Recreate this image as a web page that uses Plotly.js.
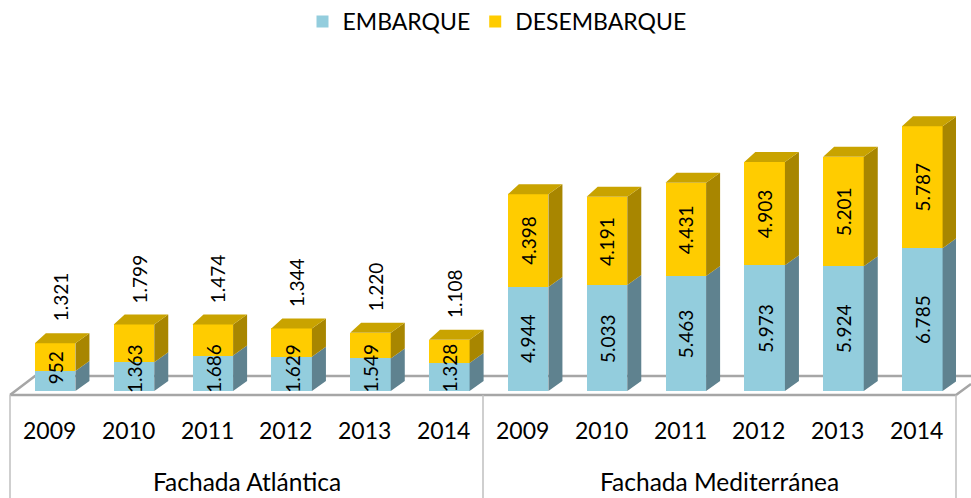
<!DOCTYPE html>
<html>
<head>
<meta charset="utf-8">
<script src="https://cdn.plot.ly/plotly-3.0.1.min.js"></script>
<style>
  html, body { margin: 0; padding: 0; background: #ffffff; }
  #chart { width: 971px; height: 498px; }
</style>
</head>
<body>
<div id="chart"></div>
<script>
// ---- data ----
const groups = ['Fachada Atlántica', 'Fachada Mediterránea'];
const years = ['2009', '2010', '2011', '2012', '2013', '2014'];
const embarque = [952, 1363, 1686, 1629, 1549, 1328, 4944, 5033, 5463, 5973, 5924, 6785];
const desembarque = [1321, 1799, 1474, 1344, 1220, 1108, 4398, 4191, 4431, 4903, 5201, 5787];
const seriesNames = ['EMBARQUE', 'DESEMBARQUE'];

// ---- styling / geometry ----
const FONT = 'Lato, "Open Sans", "DejaVu Sans", sans-serif';
const W = 971, H = 498;
const M = { l: 10, r: 15, t: 60, b: 103 };
const plotW = W - M.l - M.r, plotH = H - M.t - M.b;
const nCat = groups.length * years.length;
const catPx = plotW / nCat;
const YMIN = -190, YMAX = 15722;
const unitsPerPx = (YMAX - YMIN) / plotH;

const BAR_W = 0.515, BAR_OFF = -0.185;
const DXR = 14 / catPx, DXL = 11 / catPx, DY = 10 * unitsPerPx;

const C_BLUE = '#93CDDD', C_BLUE_SIDE = '#5F828F';
const C_GOLD = '#FFCC00', C_GOLD_SIDE = '#A88600', C_GOLD_TOP = '#C9A300';
const C_LINE = '#A6A6A6';

const fmt = n => String(n).replace(/\B(?=(\d{3})+(?!\d))/g, '.');
const xIdx = embarque.map((_, i) => i);
const totals = embarque.map((v, i) => v + desembarque[i]);

// helpers converting pixel layout positions to paper coords
const px2x = px => (px - M.l) / plotW;
const px2y = py => (H - M.b - py) / plotH;

// ---- front faces (bars) ----
const traces = [
  { type: 'bar', name: seriesNames[0], x: xIdx, y: embarque, width: BAR_W, offset: BAR_OFF,
    marker: { color: C_BLUE, line: { width: 0 } }, hoverinfo: 'y' },
  { type: 'bar', name: seriesNames[1], x: xIdx, y: desembarque, width: BAR_W, offset: BAR_OFF,
    marker: { color: C_GOLD, line: { width: 0 } }, hoverinfo: 'y' }
];

// ---- 3D side and top faces ----
function facePoly(color, build) {
  const xs = [], ys = [];
  xIdx.forEach(i => {
    const pts = build(i);
    pts.forEach(p => { xs.push(p[0]); ys.push(p[1]); });
    xs.push(null); ys.push(null);
  });
  return { type: 'scatter', mode: 'lines', x: xs, y: ys, fill: 'toself', fillcolor: color,
           line: { width: 0, color: color }, hoverinfo: 'skip', showlegend: false, connectgaps: false };
}
const xl = i => i + BAR_OFF, xr = i => i + BAR_OFF + BAR_W;
traces.push(facePoly(C_BLUE_SIDE, i => [[xr(i), 0], [xr(i) + DXR, DY], [xr(i) + DXR, embarque[i] + DY], [xr(i), embarque[i]]]));
traces.push(facePoly(C_GOLD_SIDE, i => [[xr(i), embarque[i]], [xr(i) + DXR, embarque[i] + DY], [xr(i) + DXR, totals[i] + DY], [xr(i), totals[i]]]));
traces.push(facePoly(C_GOLD_TOP, i => [[xl(i), totals[i]], [xl(i) + DXL, totals[i] + DY], [xr(i) + DXR, totals[i] + DY], [xr(i), totals[i]]]));

// ---- annotations ----
const annotations = [];
const labelFont = { family: FONT, size: 19, color: '#000000' };
const LABEL_LEN_UNITS = 52 * unitsPerPx;
const BLUE_LABEL_MIN = 1090;
xIdx.forEach(i => {
  const xc = i + BAR_OFF + BAR_W / 2;
  annotations.push({ x: xc, y: Math.max(embarque[i] / 2, BLUE_LABEL_MIN), xref: 'x', yref: 'y',
    text: fmt(embarque[i]), showarrow: false, textangle: -90, font: labelFont,
    xanchor: 'center', yanchor: 'middle' });
  if (desembarque[i] > LABEL_LEN_UNITS) {
    annotations.push({ x: xc, y: embarque[i] + desembarque[i] / 2, xref: 'x', yref: 'y',
      text: fmt(desembarque[i]), showarrow: false, textangle: -90, font: labelFont,
      xanchor: 'center', yanchor: 'middle' });
  } else {
    annotations.push({ x: xc, y: totals[i], xref: 'x', yref: 'y', xshift: 5, yshift: 46,
      text: fmt(desembarque[i]), showarrow: false, textangle: -90, font: labelFont,
      xanchor: 'center', yanchor: 'middle' });
  }
});
// category axis labels
groups.forEach((g, gi) => {
  years.forEach((yr, yi) => {
    annotations.push({ x: gi * years.length + yi, xref: 'x', y: 0, yref: 'paper', yshift: -35,
      text: yr, showarrow: false, font: { family: FONT, size: 23, color: '#000000' },
      xanchor: 'center', yanchor: 'middle' });
  });
  annotations.push({ x: gi * years.length + (years.length - 1) / 2, xref: 'x', y: 0, yref: 'paper', yshift: -86,
    text: g, showarrow: false, font: { family: FONT, size: 24.5, color: '#000000' },
    xanchor: 'center', yanchor: 'middle' });
});

// ---- floor and category table lines ----
const shapes = [];
const floorPath = 'M' + px2x(10) + ',' + px2y(395) + ' L' + px2x(35) + ',' + px2y(376) +
                  ' L' + px2x(971) + ',' + px2y(376);
shapes.push({ type: 'path', xref: 'paper', yref: 'paper', path: floorPath, layer: 'below',
              line: { color: C_LINE, width: 2.5 } });
shapes.push({ type: 'path', xref: 'paper', yref: 'paper', layer: 'below',
              path: 'M' + px2x(10) + ',' + px2y(395) + ' L' + px2x(956) + ',' + px2y(395) + ' L' + px2x(971) + ',' + px2y(384),
              line: { color: C_LINE, width: 2.5 } });
[0, 0.5, 1].forEach(fx => {
  shapes.push({ type: 'line', xref: 'paper', yref: 'paper', x0: fx, x1: fx, y0: 0, y1: px2y(H),
                line: { color: '#BFBFBF', width: 1.5 } });
});

const layout = {
  width: W, height: H,
  margin: { l: M.l, r: M.r, t: M.t, b: M.b, pad: 0 },
  paper_bgcolor: '#ffffff', plot_bgcolor: 'rgba(0,0,0,0)',
  barmode: 'stack',
  showlegend: true,
  legend: { orientation: 'h', x: px2x(497), xanchor: 'center', yref: 'container', y: 1.0, yanchor: 'top',
            font: { family: FONT, size: 23, color: '#000000' }, traceorder: 'normal',
            bgcolor: 'rgba(0,0,0,0)', itemclick: false, itemdoubleclick: false },
  xaxis: { range: [-0.5, nCat - 0.5], visible: false, fixedrange: true },
  yaxis: { range: [YMIN, YMAX], visible: false, fixedrange: true },
  annotations: annotations,
  shapes: shapes,
  font: { family: FONT }
};

Plotly.newPlot('chart', traces, layout, { displayModeBar: false, staticPlot: true });
</script>
</body>
</html>
